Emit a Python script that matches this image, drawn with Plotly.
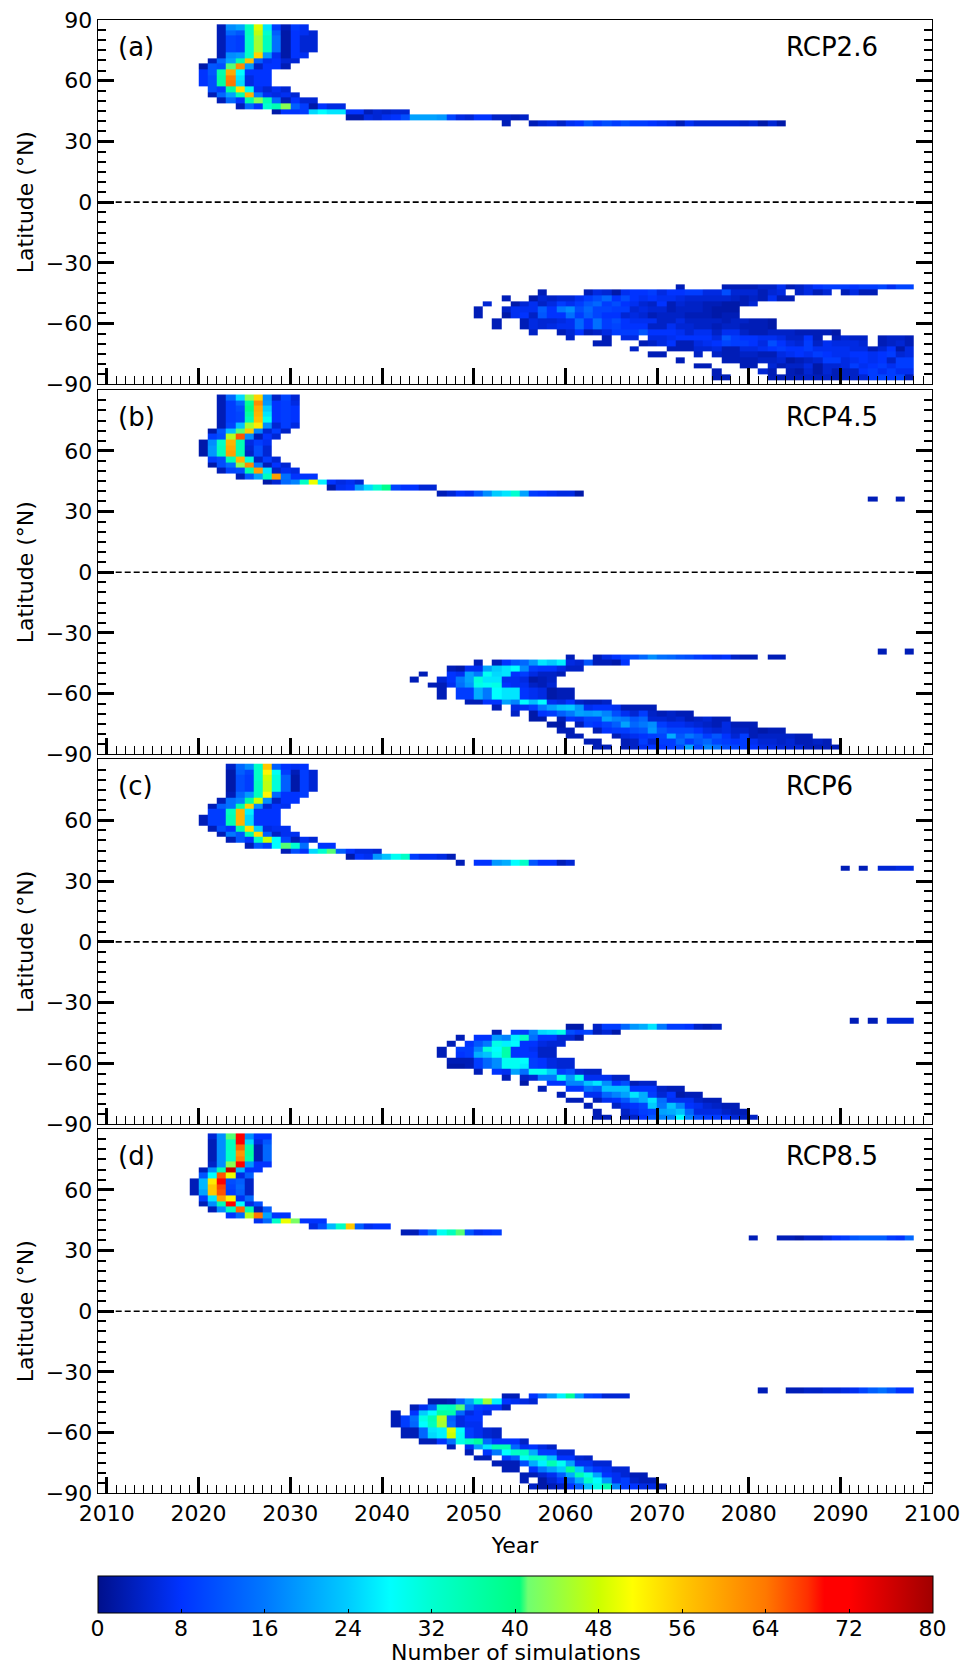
import numpy as np
import plotly.graph_objects as go

_ = None

YEAR_EDGES = list(range(2009, 2100))
LAT_EDGES = [87.86, 85.10, 82.31, 79.53, 76.74, 73.95, 71.16, 68.37, 65.58, 62.79, 60.00, 57.21,
             54.42, 51.63, 48.84, 46.05, 43.26, 40.46, 37.67, 34.88, 32.09, 29.30, 26.51, 23.72,
             20.93, 18.14, 15.35, 12.56, 9.77, 6.98, 4.19, 1.40,
             -1.40, -4.19, -6.98, -9.77, -12.56, -15.35, -18.14, -20.93, -23.72, -26.51, -29.30,
             -32.09, -34.88, -37.67, -40.46, -43.26, -46.05, -48.84, -51.63, -54.42, -57.21,
             -60.00, -62.79, -65.58, -68.37, -71.16, -73.95, -76.74, -79.53, -82.31, -85.10, -87.86]

# Each entry: (latitude band index, first year, simulations per year)
RCP26 = [
    (0, 2022, [3, 18, 20, 34, 49, 26, 9, 3, 9, 7]),
    (1, 2022, [3, 14, 12, 34, 47, 32, 13, 2, 8, 7, 5]),
    (2, 2022, [3, 10, 9, 33, 45, 34, 15, 2, 8, 5, 5]),
    (3, 2022, [3, 10, 9, 33, 45, 34, 15, 2, 8, 5, 5]),
    (4, 2022, [3, 10, 9, 33, 45, 34, 15, 2, 8, 5, 5]),
    (5, 2022, [3, 18, 19, 33, 55, 19, 7, 2, 8, 7]),
    (6, 2021, [3, 14, 20, 36, 57, 13, 7, 8, 5, 5]),
    (7, 2020, [2, 12, 11, 41, 62, 19, 4, 8, 8, 3]),
    (8, 2020, [8, 12, 36, 59, 28, 8, 8, 8]),
    (9, 2020, [8, 11, 37, 63, 26, 6, 8, 8]),
    (10, 2020, [8, 11, 37, 64, 25, 6, 8, 8]),
    (11, 2021, [11, 9, 37, 54, 29, 7, 5, 7, 5]),
    (12, 2021, [3, 14, 20, 35, 58, 16, 7, 6, 7, 5]),
    (13, 2022, [3, 14, 8, 36, 43, 35, 14, 3, 8, 5, 5]),
    (14, 2024, [3, 14, 8, 32, 35, 43, 13, 9, 2, 8, 6, 6]),
    (15, 2028, [2, 8, 8, 9, 25, 28, 26, 26, 8, 8, 3, 5, 4, 5, 5]),
    (16, 2036, [2, 2, 6, 5, 7, 8, 11, 20, 20, 20, 19, 10, 6, 5, 8, 8, 4, 4, 3, 4]),
    (17, 2053, [3, _, _, 3, 5, 6, 4, 7, 8, 12, 9, 11, 9, 11, 9, 9, 8, 7, 6, 3, 7, 5, 5, 5, 5, 5, 4, 5, 2, 5, 2]),
    (46, 2072, [3, _, _, _, _, 3, 3, 3, 3, 4, 4, 7, 3, 4, 6, 8, 9, 9, 9, 8, 9, 9, 10, 7, 10, 10]),
    (47, 2057, [3, _, _, _, _, 3, 6, 5, 2, 7, 8, 8, 9, 6, 8, 8, 9, 9, 6, 6, 11, 5, 5, 5, 3, 5, 6, _, 4, 6, 3, 5, _, 3, 6, 3, 3]),
    (48, 2053, [3, _, _, 2, 5, 4, 5, 5, 7, 9, 11, 14, 8, 11, 8, 7, 8, 7, 7, 6, 5, 5, 5, 5, 5, 4, 3, 4, 3, 7, 3, 3]),
    (49, 2051, [5, _, _, 2, 5, 7, 4, 6, 9, 7, 9, 12, 14, 9, 11, 8, 7, 5, 4, 8, 3, 5, 4, 4, 3, 3, 2, 2, 3, 5]),
    (50, 2050, [3, _, _, 4, 7, 7, 7, 13, 8, 16, 18, 11, 14, 10, 10, 9, 9, 5, 6, 5, 5, 3, 4, 4, 4, 3, 2, 2, 2]),
    (51, 2050, [3, _, _, 2, 7, 8, 4, 12, 8, 8, 15, 9, 13, 10, 8, 8, 5, 6, 5, 3, 4, 4, 4, 3, 3, 3, 2, 3, 3]),
    (52, 2052, [3, _, _, 3, 6, 5, 5, 6, 7, 14, 8, 15, 9, 11, 8, 7, 7, 7, 4, 4, 6, 4, 4, 4, 4, 3, 4, 4, 3, 3, 2]),
    (53, 2052, [3, _, _, 3, 6, 5, 6, 7, 7, 14, 8, 15, 9, 10, 8, 8, 8, 4, 4, 7, 5, 5, 4, 4, 3, 4, 4, 3, 3, 3, 2]),
    (54, 2056, [4, _, _, 3, 5, 8, 3, 4, 6, 9, 9, 9, 12, 8, 8, 8, 7, 5, 7, 7, 4, 7, 7, 4, 3, 3, 4, 4, 4, 3, 3, 3, 3, 2]),
    (55, 2060, [4, _, _, _, 3, _, 6, 6, _, 6, 6, 7, 8, 8, 8, 8, 6, 12, 9, 8, 8, 7, 7, 6, 4, 4, 8, 3, _, 3, 5, 4, 4, _, 3, 4, 4, 3]),
    (56, 2063, [3, 3, _, _, _, 3, 4, 6, 8, 3, 3, 6, 7, 8, 10, 9, 9, 8, 6, 11, 8, 6, 5, 9, 4, 7, 6, 6, 6, 5, _, 3, 4, 5, 3]),
    (57, 2067, [4, _, _, _, 3, 3, 3, 5, 5, 6, 3, 3, 6, 6, 7, 8, 9, 8, 8, 9, 7, 7, 7, 7, 6, 6, 3, 5, 8, 2, 6]),
    (58, 2069, [3, 3, _, _, _, 4, _, 4, 3, 3, 4, 4, 3, 3, 6, 7, 8, 7, 9, 8, 7, 7, 8, 8, 7, 8, 9, 5, 6]),
    (59, 2072, [3, _, _, _, _, 3, 3, 3, 3, 4, 4, 5, 2, 3, 4, 5, 9, 9, 6, 7, 8, 7, 8, 4, 9, 9]),
    (60, 2074, [3, 3, _, _, _, 3, 3, _, 5, 3, 4, 4, 6, 2, 5, 5, 6, 9, 7, 8, 9, 7, 9, 9]),
    (61, 2076, [3, _, _, _, _, 5, 3, _, 3, 2, 5, 2, 5, 3, 4, 4, 8, 9, 7, 9, 7, 7]),
    (62, 2076, [3, 3, _, _, _, _, 3, 3, 3, 3, 4, 3, 4, 3, 4, 4, 5, 9, 10, 9, 10, 3]),
]

RCP45 = [
    (0, 2022, [3, 14, 25, 43, 55, 18, 4, 10, 5]),
    (1, 2022, [3, 9, 14, 38, 62, 19, 8, 9, 6]),
    (2, 2022, [3, 9, 11, 40, 59, 24, 8, 9, 8]),
    (3, 2022, [3, 9, 10, 37, 58, 26, 8, 9, 8]),
    (4, 2022, [3, 9, 10, 35, 57, 29, 8, 9, 8]),
    (5, 2022, [3, 10, 23, 45, 53, 18, 5, 9, 6]),
    (6, 2021, [2, 12, 23, 41, 56, 17, 5, 9, 4]),
    (7, 2021, [9, 11, 46, 66, 18, 3, 8, 5]),
    (8, 2020, [2, 18, 33, 58, 35, 6, 9, 7]),
    (9, 2020, [2, 19, 34, 59, 35, 5, 11, 5]),
    (10, 2020, [2, 19, 34, 60, 35, 4, 11, 5]),
    (11, 2021, [9, 11, 35, 58, 31, 4, 9, 5]),
    (12, 2021, [2, 11, 15, 43, 62, 16, 3, 8, 5]),
    (13, 2022, [3, 10, 11, 36, 60, 26, 4, 7, 6]),
    (14, 2024, [3, 12, 20, 34, 60, 15, 8, 8, 8]),
    (15, 2027, [2, 5, 14, 17, 33, 50, 27, 8, 6, 7, 5]),
    (16, 2034, [2, 7, 8, 19, 25, 32, 39, 10, 8, 8, 5, 5]),
    (17, 2046, [3, 5, 8, 7, 12, 18, 24, 26, 32, 20, 9, 8, 7, 6, 6, 2]),
    (18, 2093, [3, _, _, 3]),
    (45, 2094, [3, _, _, 3]),
    (46, 2060, [3, _, _, 3, 6, 8, 10, 11, 14, 18, 15, 14, 12, 11, 9, 8, 7, 8, 4, 3, 3, _, 3, 3]),
    (47, 2050, [3, _, 3, 8, 12, 14, 19, 26, 24, 27, 6, 5, 12, 3, 3, 2, 8]),
    (48, 2047, [3, 2, 7, 7, 20, 24, 26, 28, 18, 9, 8, 8, 6, 4, 4]),
    (49, 2044, [3, _, _, 8, 7, 20, 16, 29, 25, 26, 8, 9, 6, 4, 4, 3]),
    (50, 2043, [3, _, _, 5, 8, 16, 20, 31, 26, 26, 7, 7, 6, 2, 3, 4]),
    (51, 2045, [3, 3, 7, 15, 19, 30, 29, 30, 8, 7, 7, 4, 3, 5]),
    (52, 2046, [3, _, 9, 9, 21, 16, 28, 26, 26, 8, 7, 6, 2, 3, 3]),
    (53, 2046, [3, _, 9, 9, 21, 16, 28, 26, 26, 8, 7, 6, 2, 3, 3]),
    (54, 2049, [3, 3, 8, 8, 20, 17, 28, 23, 28, 7, 6, 8, 4, 3, 3, 4]),
    (55, 2052, [3, _, 6, 7, 9, 16, 20, 23, 24, 19, 7, 8, 8, 7, 3, 3, 3, 3]),
    (56, 2054, [4, _, 2, 8, 9, 13, 16, 20, 19, 20, 17, 11, 7, 5, 9, 4, 3, 4, 3, 3]),
    (57, 2056, [2, 2, _, 3, 8, 7, 10, 10, 20, 17, 16, 12, 14, 5, 5, 4, 5, 3, 4, 5, 3, 3]),
    (58, 2058, [2, 2, _, 3, 9, 8, 10, 13, 20, 14, 16, 18, 9, 7, 7, 6, 5, 4, 3, 6, 3, 3, 3]),
    (59, 2059, [3, 3, _, _, 3, 8, 9, 9, 11, 12, 19, 12, 10, 10, 10, 8, 6, 5, 6, 4, 4, 3, 2, 3, 3]),
    (60, 2060, [3, 3, _, _, _, 3, 6, 7, 8, 9, 10, 21, 12, 16, 13, 9, 12, 8, 5, 9, 3, 4, 4, 4, 4, 3, 3]),
    (61, 2062, [3, 3, _, _, 3, 4, 9, 5, 9, 9, 14, 9, 12, 14, 10, 9, 8, 9, 7, 5, 5, 4, 5, 3, 3, 4, 3]),
    (62, 2063, [3, 3, _, 3, 4, 7, 8, 8, 9, 11, 20, 10, 17, 15, 11, 10, 9, 8, 6, 6, 5, 5, 5, 3, 3, 3, 3]),
]

RCP60 = [
    (0, 2023, [4, 14, 18, 33, 56, 13, 8, 7, 8]),
    (1, 2023, [2, 13, 10, 33, 52, 29, 9, 3, 9, 5]),
    (2, 2023, [2, 11, 9, 33, 48, 31, 13, 2, 9, 5]),
    (3, 2023, [2, 11, 9, 34, 47, 31, 13, 2, 9, 5]),
    (4, 2023, [2, 11, 9, 34, 47, 31, 13, 2, 9, 5]),
    (5, 2023, [3, 14, 19, 34, 52, 14, 8, 8, 9]),
    (6, 2022, [3, 15, 17, 37, 48, 18, 4, 8, 8]),
    (7, 2021, [3, 13, 15, 36, 55, 18, 5, 8, 7]),
    (8, 2021, [9, 9, 34, 58, 27, 8, 8, 8]),
    (9, 2020, [3, 9, 9, 35, 58, 25, 8, 8, 8]),
    (10, 2020, [3, 9, 9, 35, 58, 25, 8, 8, 8]),
    (11, 2021, [3, 11, 8, 36, 54, 24, 6, 7, 7]),
    (12, 2022, [3, 16, 12, 35, 54, 13, 4, 7, 7]),
    (13, 2023, [3, 12, 8, 33, 48, 28, 10, 3, 7, 5]),
    (14, 2025, [3, 12, 9, 28, 41, 32, 15, _, 8, 8]),
    (15, 2029, [3, 11, 8, 25, 32, 41, 13, 8, 6, 6, 5]),
    (16, 2036, [2, 8, 7, 19, 23, 29, 33, 9, 7, 7, 6, 3]),
    (17, 2048, [3, _, 8, 8, 19, 21, 28, 33, 12, 8, 8, 3, 5]),
    (18, 2090, [3, _, 3, _, 5, 5, 6, 6]),
    (45, 2091, [3, _, 3, _, 5, 5, 5]),
    (46, 2060, [2, 2, _, 4, 9, 9, 14, 19, 21, 26, 16, 9, 9, 8, 4, 3, 4]),
    (47, 2052, [3, _, 9, 9, 17, 25, 26, 30, 11, 9, 10, 3, 5, 2]),
    (48, 2048, [3, _, 8, 8, 19, 17, 27, 33, 15, 8, 8, 5, 5, 2]),
    (49, 2047, [3, _, 8, 12, 16, 30, 27, 28, 8, 8, 6, 5, 5]),
    (50, 2046, [3, _, 9, 9, 17, 31, 28, 36, 8, 8, 7, 4, 4]),
    (51, 2046, [3, _, 8, 9, 21, 23, 29, 36, 8, 8, 8, 4, 4]),
    (52, 2047, [3, 3, 3, 9, 14, 18, 29, 29, 28, 9, 8, 6, 5, 5]),
    (53, 2047, [2, 2, 3, 9, 14, 18, 29, 29, 27, 9, 8, 6, 5, 5]),
    (54, 2050, [3, _, 8, 7, 20, 15, 29, 29, 24, 9, 11, 5, 4, 4]),
    (55, 2053, [3, _, 4, 5, 16, 16, 30, 19, 30, 7, 7, 7, 4, 4]),
    (56, 2055, [2, _, _, 8, 8, 17, 17, 23, 26, 18, 8, 11, 3, 4, 4]),
    (57, 2057, [3, _, _, 8, 8, 15, 13, 23, 23, 23, 8, 8, 8, 4, 3, 3]),
    (58, 2059, [3, _, _, 7, 7, 14, 17, 20, 26, 21, 9, 5, 8, 2, 3, 3]),
    (59, 2060, [3, 3, _, 3, 7, 8, 12, 18, 21, 26, 15, 7, 7, 7, 4, 3, 3]),
    (60, 2062, [3, _, _, 4, 7, 8, 10, 24, 16, 23, 17, 8, 7, 5, 4, 3, 3]),
    (61, 2063, [3, _, _, 4, 7, 9, 10, 20, 21, 23, 14, 6, 6, 6, 4, 3, 3]),
    (62, 2063, [3, 3, _, 3, 4, 8, 12, 17, 17, 28, 17, 11, 9, 9, 8, 5, 4, 4]),
]

RCP85 = [
    (0, 2021, [5, 18, 41, 71, 18, 8, 8]),
    (1, 2021, [3, 18, 34, 72, 25, 6, 12]),
    (2, 2021, [3, 18, 34, 65, 36, 3, 14]),
    (3, 2021, [3, 18, 33, 61, 37, 3, 14]),
    (4, 2021, [3, 18, 33, 63, 36, 3, 14]),
    (5, 2021, [4, 18, 43, 71, 19, 8, 8]),
    (6, 2020, [3, 18, 35, 77, 22, 8, 8]),
    (7, 2020, [12, 28, 66, 50, 6, 13]),
    (8, 2019, [3, 22, 53, 71, 11, 13, 4]),
    (9, 2019, [3, 22, 56, 67, 10, 14, 4]),
    (10, 2019, [3, 20, 56, 66, 9, 13, 4]),
    (11, 2020, [9, 26, 60, 52, 7, 14]),
    (12, 2020, [3, 18, 35, 71, 28, 6, 11]),
    (13, 2021, [3, 18, 34, 65, 35, 3, 13]),
    (14, 2023, [8, 14, 46, 64, 20, 8, 8]),
    (15, 2026, [7, 14, 33, 50, 42, 8, 8, 8]),
    (16, 2032, [6, 11, 22, 33, 56, 13, 7, 8, 8]),
    (17, 2042, [3, 3, 9, 16, 29, 34, 41, 12, 7, 8, 9]),
    (18, 2080, [3, _, _, 3, 3, 2, 4, 4, 6, 8, 9, 12, 13, 13, 13, 9, 8, 14]),
    (45, 2081, [3, _, _, 3, 3, 4, 4, 5, 5, 6, 7, 10, 13, 15, 12, 8, 8]),
    (46, 2053, [3, 3, _, 8, 14, 20, 27, 38, 19, 10, 9, 5, 5, 5]),
    (47, 2045, [2, 2, 3, 13, 20, 32, 45, 27, 8, 7, 6, 5]),
    (48, 2043, [3, 7, 13, 33, 34, 41, 15, 9, 8, 8, 3]),
    (49, 2041, [3, _, 8, 24, 28, 37, 36, 14, 6, 8, 6]),
    (50, 2041, [3, 9, 15, 30, 35, 46, 13, 6, 8, 8]),
    (51, 2041, [3, 9, 14, 28, 34, 45, 14, 6, 7, 7]),
    (52, 2042, [3, 3, 14, 26, 27, 49, 28, 9, 7, 5, 4]),
    (53, 2042, [3, 3, 14, 25, 27, 48, 29, 9, 7, 5, 4]),
    (54, 2044, [3, 3, 8, 15, 30, 33, 37, 14, 8, 8, 8, 4]),
    (55, 2047, [3, _, 7, 20, 26, 35, 35, 14, 7, 8, 6, 4]),
    (56, 2049, [3, _, 8, 16, 28, 33, 34, 21, 9, 9, 5, 5]),
    (57, 2050, [3, 3, _, 9, 13, 29, 33, 32, 23, 8, 8, 5, 4]),
    (58, 2052, [3, 3, 3, 11, 21, 27, 35, 29, 20, 7, 7, 5, 5]),
    (59, 2053, [3, 3, _, 8, 16, 20, 24, 38, 24, 12, 8, 7, 5, 5]),
    (60, 2055, [3, 3, 5, 7, 13, 21, 35, 30, 20, 8, 7, 5, 3, 3]),
    (61, 2055, [3, _, 2, 5, 8, 13, 21, 33, 28, 19, 7, 9, 4, 3, 3]),
    (62, 2056, [4, 2, 3, 4, 8, 13, 23, 30, 35, 17, 9, 8, 6, 6, 3]),
]

PANEL_TAGS = ["(a)", "(b)", "(c)", "(d)"]
PANEL_NAMES = ["RCP2.6", "RCP4.5", "RCP6", "RCP8.5"]
PANEL_ROWS = [RCP26, RCP45, RCP60, RCP85]
PANEL_TOPS = [20.0, 390.2, 759.4, 1129.1]
PANEL_BOTTOMS = [384.3, 754.3, 1124.2, 1493.4]
LAT_TICKS = [-90, -60, -30, 0, 30, 60, 90]
LAT_LABELS = ["−90", "−60", "−30", "0", "30", "60", "90"]

COLOR_STOPS = [
    (0.0, "#00108c"), (0.10, "#0033ff"), (0.20, "#0078ff"), (0.30, "#00ccff"),
    (0.35, "#00ffff"), (0.40, "#00ffd0"), (0.505, "#00ff80"), (0.515, "#70ff70"),
    (0.60, "#ccff00"), (0.64, "#ffff00"), (0.70, "#ffc800"), (0.80, "#ff7800"),
    (0.85, "#ff3000"), (0.87, "#ff0000"), (0.90, "#ff0000"), (1.0, "#a00000"),
]

W, H = 975, 1664
LEFT, RIGHT = 97.7, 932.3
FONT = "DejaVu Sans"
FS = 22


def grid(rows):
    z = np.full((len(LAT_EDGES) - 1, len(YEAR_EDGES) - 1), np.nan)
    for band, first, values in rows:
        for k, v in enumerate(values):
            if v is not None:
                z[band, first - YEAR_EDGES[0] + k] = v
    return z


fig = go.Figure()
annotations = []
shapes = []
for i in range(4):
    suffix = "" if i == 0 else str(i + 1)
    fig.add_trace(go.Heatmap(
        x=YEAR_EDGES, y=LAT_EDGES, z=grid(PANEL_ROWS[i]).tolist(),
        coloraxis="coloraxis", xaxis="x" + suffix, yaxis="y" + suffix,
        hoverongaps=False, zsmooth=False,
    ))
    dom = [1 - PANEL_BOTTOMS[i] / H, 1 - PANEL_TOPS[i] / H]
    xname, yname = "xaxis" + suffix, "yaxis" + suffix
    fig.layout[xname] = dict(
        domain=[LEFT / W, RIGHT / W], anchor="y" + suffix, range=[2009, 2100],
        tick0=2010, dtick=10, ticks="inside", ticklen=16, tickwidth=2.6, tickcolor="black",
        minor=dict(tick0=2010, dtick=1, ticks="inside", ticklen=8, tickwidth=1.3, tickcolor="black", showgrid=False),
        showticklabels=(i == 3), showgrid=False, zeroline=False, showline=True,
        linecolor="black", linewidth=1.3, mirror=True,
        tickfont=dict(family=FONT, size=FS, color="black"),
        title=dict(text="Year" if i == 3 else "", font=dict(family=FONT, size=FS, color="black"), standoff=12),
    )
    labels = list(LAT_LABELS)
    if i > 0:
        labels[-1] = ""
    fig.layout[yname] = dict(
        domain=dom, anchor="x" + suffix, range=[-90, 90],
        tickmode="array", tickvals=LAT_TICKS, ticktext=labels,
        ticks="inside", ticklen=16, tickwidth=2.6, tickcolor="black",
        minor=dict(tick0=-90, dtick=5, ticks="inside", ticklen=8, tickwidth=1.7, tickcolor="black", showgrid=False),
        showgrid=False, zeroline=False, showline=True, linecolor="black", linewidth=1.3, mirror="ticks",
        tickfont=dict(family=FONT, size=FS, color="black"),
        title=dict(text="Latitude (°N)", font=dict(family=FONT, size=FS, color="black"), standoff=6),
    )
    shapes.append(dict(type="line", xref="x" + suffix + " domain", yref="y" + suffix, x0=0, x1=1, y0=0, y1=0,
                       line=dict(color="black", width=1.7, dash="6px,3px")))
    annotations.append(dict(text=PANEL_TAGS[i], xref="paper", yref="y" + suffix + " domain",
                            x=115.5 / W, y=0.927, xanchor="left", yanchor="middle", showarrow=False,
                            font=dict(family=FONT, size=26, color="black")))
    annotations.append(dict(text=PANEL_NAMES[i], xref="paper", yref="y" + suffix + " domain",
                            x=784 / W, y=0.927, xanchor="left", yanchor="middle", showarrow=False,
                            font=dict(family=FONT, size=26, color="black")))

annotations.append(dict(text="Number of simulations", xref="paper", yref="paper",
                        x=515.5 / W, y=1 - 1652 / H, xanchor="center", yanchor="middle", showarrow=False,
                        font=dict(family=FONT, size=FS, color="black")))

fig.update_layout(
    width=W, height=H, autosize=False, paper_bgcolor="white", plot_bgcolor="white",
    margin=dict(l=0, r=0, t=0, b=0, autoexpand=False), showlegend=False, shapes=shapes, annotations=annotations,
    font=dict(family=FONT, size=FS, color="black"),
    coloraxis=dict(
        cmin=0, cmax=80, colorscale=[[a, c] for a, c in COLOR_STOPS],
        colorbar=dict(
            orientation="h", lenmode="pixels", len=RIGHT - LEFT, thicknessmode="pixels", thickness=36.6,
            x=(LEFT + RIGHT) / 2 / W, xanchor="center", y=1 - 1575.7 / H, yanchor="top", xpad=0, ypad=0,
            tickvals=[0, 8, 16, 24, 32, 40, 48, 56, 64, 72, 80], ticks="inside", ticklen=4, tickwidth=1,
            tickcolor="black", outlinecolor="black", outlinewidth=1,
            tickfont=dict(family=FONT, size=FS, color="black"),
        ),
    ),
)

POST = """
document.body.style.margin = '0';
document.querySelectorAll('.colorbar text').forEach(function (t) {
    var old = t.getAttribute('transform') || '';
    t.setAttribute('transform', 'translate(0,-4) ' + old);
});
"""
fig.write_html("out.html", config={"displayModeBar": False}, post_script=POST)
